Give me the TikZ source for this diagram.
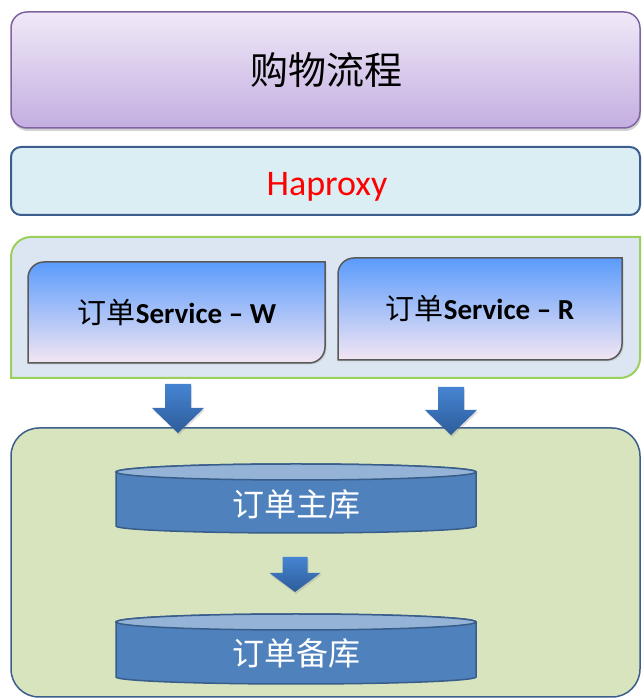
\documentclass[tikz,border=0pt]{standalone}
\usepackage{fontspec}
\setmainfont{Carlito}
\newfontfamily\cjk{Noto Sans CJK SC}
\usetikzlibrary{shadows}
\definecolor{ttop}{HTML}{F0E9F8}
\definecolor{tbot}{HTML}{C3AEE0}
\definecolor{tborder}{HTML}{8064A2}
\definecolor{hfill}{HTML}{DBEEF4}
\definecolor{dkblue}{HTML}{3B5E8C}
\definecolor{cfill}{HTML}{DCE6F2}
\definecolor{cgreen}{HTML}{9BD15B}
\definecolor{stop}{HTML}{5A9BFC}
\definecolor{smid}{HTML}{9CC6F2}
\definecolor{sbot}{HTML}{F3E6F3}
\definecolor{sborder}{HTML}{595959}
\definecolor{gfill}{HTML}{D7E4BD}
\definecolor{dbfill}{HTML}{4F81BD}
\definecolor{dbtop}{HTML}{95B3D7}
\definecolor{dbborder}{HTML}{385D8A}
\definecolor{atop}{HTML}{4684D2}
\definecolor{abot}{HTML}{2D5C9A}
\definecolor{hred}{HTML}{FF0000}
\tikzset{
  titlebox/.style={draw=tborder, line width=1.5pt, top color=ttop, bottom color=tbot, rounded corners=16pt,
     drop shadow={shadow xshift=1pt, shadow yshift=-3pt, opacity=0.35}},
  hapbox/.style={draw=dkblue, line width=2pt, fill=hfill, rounded corners=10pt},
  contbox/.style={draw=cgreen, line width=2pt, fill=cfill},
  svcbox/.style={draw=sborder, line width=1.5pt, top color=stop, middle color=smid, bottom color=sbot,
     drop shadow={shadow xshift=1.5pt, shadow yshift=-1.5pt, opacity=0.25}},
  dbbox/.style={draw=dkblue, line width=1.5pt, fill=gfill, rounded corners=28pt},
  dbbody/.style={draw=dbborder, line width=1.5pt, fill=dbfill},
  dbcap/.style={draw=dbborder, line width=1.5pt, fill=dbtop},
  blockarrow/.style={top color=atop, bottom color=abot,
     drop shadow={shadow xshift=1pt, shadow yshift=-2pt, opacity=0.25}},
  titletext/.style={font=\cjk\fontsize{38}{44}\selectfont, text=black, inner sep=0pt},
  haptext/.style={font=\fontsize{36}{42}\selectfont, text=hred, inner sep=0pt},
  svctext/.style={font=\fontsize{29}{34}\selectfont, text=black, inner sep=0pt},
  dbtext/.style={font=\cjk\fontsize{32}{38}\selectfont, text=white, inner sep=0pt},
}
\begin{document}
\begin{tikzpicture}[x=1pt,y=1pt]
\useasboundingbox (0,0) rectangle (642,698);
\fill[white] (0,0) rectangle (642,698);

% title
\path[titlebox] (11,570) rectangle (640,686);
\node[titletext] (title) at (326,628) {购物流程};

% haproxy
\path[hapbox] (11,483) rectangle (640,551);
\node[haptext] (hap) at (327,511.5) {Haproxy};

% service container (diagonal rounded)
\path[contbox] (11,320) -- (11,441) arc[start angle=180, end angle=90, radius=20] -- (640,461)
   -- (640,340) arc[start angle=0, end angle=-90, radius=20] -- cycle;

% service W
\path[svcbox] (28,335) -- (28,420) arc[start angle=180, end angle=90, radius=16] -- (325,436)
   -- (325,351) arc[start angle=0, end angle=-90, radius=16] -- cycle;
\node[svctext] (svcw) at (177,385) {{\cjk 订单}\textbf{Service – W}};

% service R
\path[svcbox] (338,338) -- (338,424) arc[start angle=180, end angle=90, radius=16] -- (622,440)
   -- (622,354) arc[start angle=0, end angle=-90, radius=16] -- cycle;
\node[svctext] (svcr) at (480,389) {{\cjk 订单}\textbf{Service – R}};

% database container
\path[dbbox] (11,1) rectangle (640,270);

% arrows from services
\path[blockarrow] (165,314) -- (191,314) -- (191,290) -- (204,290) -- (178,265) -- (152,290) -- (165,290) -- cycle;
\path[blockarrow] (438,311) -- (464,311) -- (464,288) -- (477,288) -- (451,263) -- (425,288) -- (438,288) -- cycle;

% DB1
\path[dbbody] (116,226) -- (116,172) arc[start angle=180, end angle=360, x radius=180, y radius=7]
   -- (476,226) arc[start angle=0, end angle=180, x radius=180, y radius=8] -- cycle;
\path[dbcap] (296,226) ellipse[x radius=180, y radius=8];
\node[dbtext] (db1) at (296,194) {订单主库};

% arrow between DBs
\path[blockarrow] (282.5,141) -- (307.5,141) -- (307.5,125) -- (320.5,125) -- (295,106) -- (269.5,125) -- (282.5,125) -- cycle;

% DB2
\path[dbbody] (116,76) -- (116,21) arc[start angle=180, end angle=360, x radius=180, y radius=7]
   -- (476,76) arc[start angle=0, end angle=180, x radius=180, y radius=8] -- cycle;
\path[dbcap] (296,76) ellipse[x radius=180, y radius=8];
\node[dbtext] (db2) at (296,45) {订单备库};
\end{tikzpicture}
\end{document}
